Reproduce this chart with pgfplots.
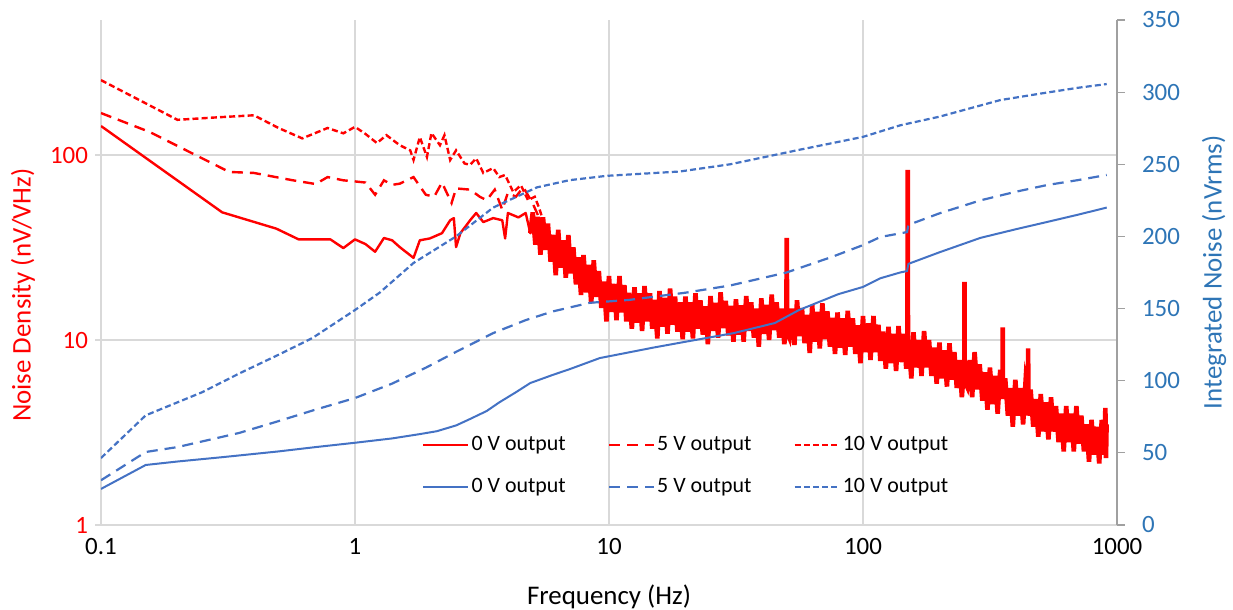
\documentclass[border=0pt]{standalone}
\usepackage{fontspec}
\setmainfont{Carlito}
\usepackage{pgfplots}
\pgfplotsset{compat=1.18}

\definecolor{nred}{RGB}{255,0,0}
\definecolor{nblue}{RGB}{68,114,196}
\definecolor{axblue}{RGB}{46,117,182}
\definecolor{gridgray}{RGB}{217,217,217}
\definecolor{axgray}{RGB}{160,160,160}

\pgfplotsset{
  every axis/.append style={
    scale only axis, width=508bp, height=252.5bp,
    xmode=log, xmin=0.1, xmax=1000,
    tick label style={font=\fontsize{12.5}{14}\selectfont},
    label style={font=\fontsize{13.5}{15}\selectfont},
  },
  legend image code/.code={\draw[#1] plot coordinates {(0bp,0bp) (22.5bp,0bp)};},
}

\begin{document}
\begin{tikzpicture}
\useasboundingbox (-50.5bp,-42.5bp) rectangle (566bp,262.5bp);

% noise density, log scale
\begin{axis}[
  ymode=log, ymin=1, ymax=537,
  xtick={0.1,1,10,100,1000}, xticklabels={0.1,1,10,100,1000},
  ytick={1,10,100}, yticklabels={1,10,100},
  xminorticks=false, yminorticks=false,
  xmajorgrids, ymajorgrids, grid style={draw=gridgray, line width=0.6bp},
  axis x line*=bottom, axis y line*=left,
  axis line style={draw=gridgray, line width=0.6bp},
  tick align=outside, major tick length=3bp,
  xtick style={draw=none}, ytick style={draw=gridgray, line width=0.6bp},
  yticklabel style={nred},
  ylabel={Noise Density (nV/VHz)},
  ylabel style={nred, at={(axis description cs:-0.0768,0.455)}, anchor=center},
  xlabel={Frequency (Hz)},
  xlabel style={at={(axis description cs:0.5,-0.1426)}, anchor=center},
]
% 10 V output
\addplot[nred, line width=1.2bp, dash pattern=on 3bp off 1.6bp] coordinates {
(0.1,254)(0.2,155)(0.29,160)(0.4,164)(0.5,140)(0.62,123)(0.78,140)(0.9,131)(1.0,142)
(1.1,130)(1.22,116)(1.33,128)(1.5,113)(1.65,106)(1.7,94)(1.8,125)(1.92,97.6)(2.0,131.5)
(2.16,113)(2.25,128)(2.37,94)(2.5,106)(2.7,90)(2.84,88.5)(3.0,96)(3.2,80)(3.5,85)
(3.7,76)(3.9,78)(4.2,63)(4.5,68.7)(4.8,57)(5.1,59.5)(5.3,52)(5.5,44.5)(6,35)(7,27)
(8,23)(10,17.5)(20,14)(50,13)(100,10.6)(200,7.8)(500,4)(900,2.85)};
% 5 V output
\addplot[nred, line width=1.2bp, dash pattern=on 5.5bp off 3.5bp] coordinates {
(0.1,168.6)(0.156,133)(0.2,112)(0.32,81)(0.4,80)(0.57,73)(0.7,69.7)(0.78,76)(0.9,73)
(1.0,72)(1.1,71)(1.2,61)(1.3,73)(1.4,69)(1.5,70)(1.7,76)(1.9,61)(2.05,59.5)(2.2,71)
(2.4,55)(2.5,66)(2.84,65)(3.1,59.5)(3.3,57)(3.55,65)(3.8,50.6)(4.0,62.6)(4.3,59.5)
(4.6,67)(5.0,55)(5.3,46)(6,35)(7,27)(8,23)(10,17.5)(20,14)(50,13)(100,10.6)(200,7.8)
(500,4)(900,2.85)};
% 0 V output, below 5 Hz
\addplot[nred, line width=1.2bp, line join=round] coordinates {
(0.1,143.5)(0.175,83)(0.3,49)(0.49,40)(0.6,35)(0.8,35)(0.9,31.4)(1.0,35)(1.1,33)(1.2,30)
(1.3,35.6)(1.4,34.6)(1.5,31.8)(1.7,27.8)(1.8,34.6)(1.97,35.4)(2.2,37.8)(2.37,44.4)
(2.45,45.6)(2.5,31.8)(2.6,37.8)(2.84,44.4)(3.0,48.6)(3.2,43.4)(3.5,45.6)(3.8,44.4)
(3.9,35.4)(4.0,48.6)(4.4,46)(4.7,48.6)(4.9,37.8)(5.01,49)};
% 0 V output, dense noisy part
\addplot[nred, line width=2.3bp, line join=miter] coordinates {
(4.9,37.8)
(5.01,49)(5.13,32.8)(5.25,46.4)(5.37,28.9)(5.50,46)(5.62,30.7)(5.75,42.6)(5.89,26.5)
(6.03,37.0)(6.17,22.4)(6.31,39.4)(6.46,24.6)(6.61,34.6)(6.76,21.7)(6.92,36.9)(7.08,22.9)
(7.24,31.7)(7.41,20.0)(7.59,28.0)(7.76,17.5)(7.94,28.8)(8.13,18.1)(8.32,25.5)(8.51,15.8)
(8.71,27.0)(8.91,17.1)(9.12,23.6)(9.33,14.9)(9.55,20.7)(9.77,12.6)
(10.0,22.2)(10.2,14.2)(10.5,20.1)(10.7,12.8)(11.0,22.2)(11.2,14.1)(11.5,19.8)(11.7,12.6)
(12.0,18.0)(12.3,11.5)(12.6,19.3)(12.9,12.4)(13.2,17.9)(13.5,11.2)(13.8,19.6)(14.1,12.6)
(14.5,17.9)(14.8,11.5)(15.1,16.5)(15.5,10.2)(15.8,18.4)(16.2,11.8)(16.6,16.9)(17.0,10.8)
(17.4,19.0)(17.8,12.1)(18.2,17.2)(18.6,11.1)(19.1,16.0)(19.5,10.1)(20.0,17.2)(20.4,11.1)
(20.9,16.0)(21.4,10.2)(21.9,17.9)(22.4,11.5)(22.9,16.4)(23.4,10.7)(24.0,15.2)(24.5,9.5)
(25.1,17.3)(25.7,11.2)(26.3,15.9)(26.9,10.3)(27.5,18.1)(28.2,11.6)(28.8,16.3)(29.5,10.6)
(30.2,15.3)(30.9,9.8)(31.6,16.6)(32.4,10.7)(33.1,15.4)(33.9,9.8)(34.7,17.3)(35.5,11.2)
(36.3,16.0)(37.2,10.3)(38.0,14.8)(38.9,9.2)(39.8,16.8)(40.7,10.8)(41.7,15.5)(42.7,10.0)
(43.7,17.6)(44.7,11.3)(45.7,16.0)(46.8,10.3)(47.9,14.8)(49.0,9.5)(49.9,12)(50.1,35.6)(50.3,11)
(51.3,10.3)(52.5,14.8)(53.7,9.4)(55.0,16.4)(56.2,10.5)(57.5,14.9)(58.9,9.6)(60.3,13.7)
(61.7,8.5)(63.1,15.4)(64.6,9.8)(66.1,14.2)(67.6,9.0)(69.2,15.8)(70.8,10.1)(72.4,14.3)
(74.1,9.2)(75.9,13.2)(77.6,8.4)(79.4,14.1)(81.3,9.1)(83.2,13.1)(85.1,8.3)(87.1,14.4)
(89.1,9.2)(91.2,13.1)(93.3,8.4)(95.5,12.0)(97.7,7.5)
(100,13.5)(102,8.6)(105,12.3)(107,7.8)(110,13.5)(112,8.6)(115,12.1)(117,7.7)(120,11.1)
(123,7.0)(126,11.8)(129,7.5)(132,10.8)(135,6.8)(138,11.9)(141,7.6)(145,10.8)(148,7.0)
(149.6,9.5)(150,83)(150.4,8.0)(151,10.0)(155,6.2)(158,11.0)(162,7.1)(166,10.0)(170,6.4)
(174,11.2)(178,7.1)(182,10.0)(186,6.4)(191,9.1)(195,5.8)(200,9.7)(204,6.2)(209,8.8)
(214,5.6)(219,9.6)(224,6.1)(229,8.6)(234,5.5)(240,7.8)(245,4.9)(250.6,7.5)(251,20.6)
(251.4,6.0)(257,5.6)(263,7.8)(269,4.9)(275,8.6)(282,5.4)(288,7.4)(295,4.7)(302,6.7)
(309,4.2)(316,7.1)(324,4.5)(331,6.4)(339,4.0)(347,6.9)(354.6,5.5)(355,11.7)(355.4,4.8)
(363,6.2)(372,3.9)(380,5.5)(389,3.4)(398,6.1)(407,3.9)(417,5.5)(427,3.5)(437,6.1)
(446.6,5.2)(447,9.0)(447.4,3.9)(457,5.4)(468,3.4)(479,4.8)(490,3.0)(501,5.1)(513,3.2)
(525,4.6)(537,2.9)(550,4.9)(562,3.2)(575,4.4)(589,2.8)(603,4.0)(617,2.5)(631,4.4)
(646,2.8)(661,4.0)(676,2.5)(692,4.4)(708,2.75)(724,3.9)(741,2.5)(759,3.5)(776,2.2)
(794,3.7)(813,2.4)(832,3.4)(851,2.15)(871,3.7)(891,2.4)(900,4.3)(905,2.3)(910,3.5)};
\end{axis}

% integrated noise, linear scale
\begin{axis}[
  ymin=0, ymax=350,
  ytick={0,50,100,150,200,250,300,350}, yticklabels={0,50,100,150,200,250,300,350},
  hide x axis,
  axis y line*=right,
  axis line style={draw=axgray, line width=0.6bp},
  tick align=outside, major tick length=4bp,
  ytick style={draw=axgray, line width=0.6bp},
  yticklabel style={axblue, xshift=5bp},
  ylabel={Integrated Noise (nVrms)},
  ylabel style={axblue, at={(axis description cs:1.0955,0.5)}, anchor=center},
  legend columns=3,
  legend style={at={(axis description cs:0.576,0.117)}, anchor=center, draw=none, fill=none,
    font=\fontsize{11}{13}\selectfont, row sep=8.5bp,
    nodes={inner xsep=1bp},
    /tikz/every even column/.append style={column sep=20bp}},
  legend cell align=left,
]
\addlegendimage{nred, line width=1.2bp}
\addlegendentry{0 V output}
\addlegendimage{nred, line width=1.2bp, dash pattern=on 5.5bp off 3.5bp}
\addlegendentry{5 V output}
\addlegendimage{nred, line width=1.2bp, dash pattern=on 3bp off 1.6bp}
\addlegendentry{10 V output}
\addplot[nblue, line width=1bp] coordinates {
(0.1,25)(0.15,41.6)(0.2,44)(0.3,47)(0.5,51)(0.7,54)(1,57)(1.4,60)(1.8,63)(2.1,65)
(2.5,69)(2.84,73.5)(3.3,79)(3.7,85)(4.3,92)(4.9,98.4)(6,104)(7,108)(9.2,115.7)(15,123)
(20,127)(31,133)(45,140)(56,149)(80,160)(100,165)(117,171)(140,175)(149,176)(151,181)
(200,189)(290,199)(400,205)(530,210)(700,215)(911,220)};
\addlegendentry{0 V output}
\addplot[nblue, line width=1.1bp, dash pattern=on 5.5bp off 3.5bp] coordinates {
(0.1,31)(0.15,50.6)(0.2,54)(0.35,63.8)(0.5,72)(0.7,80)(1,88)(1.4,98)(1.9,109)(2.5,120)
(3.5,133)(4.7,142)(6,148)(8.4,154)(12,156)(20,161)(30,166)(50,175)(76,186)(100,194)
(117,199.6)(149,203)(151,208)(200,216)(290,225)(400,231)(530,235.6)(700,239)(911,242.6)};
\addlegendentry{5 V output}
\addplot[nblue, line width=1.1bp, dash pattern=on 3bp off 1.6bp] coordinates {
(0.1,46.4)(0.15,76)(0.25,92)(0.35,105)(0.5,118)(0.68,129.6)(1,149)(1.25,161)(1.7,181.6)
(2.5,200)(3.5,220)(5.2,234)(7,239)(9.8,242)(19,245)(30,250)(56,260)(100,269)(140,277)
(200,283)(347,294.5)(500,299)(700,303)(911,305.6)};
\addlegendentry{10 V output}
\end{axis}
\end{tikzpicture}
\end{document}
